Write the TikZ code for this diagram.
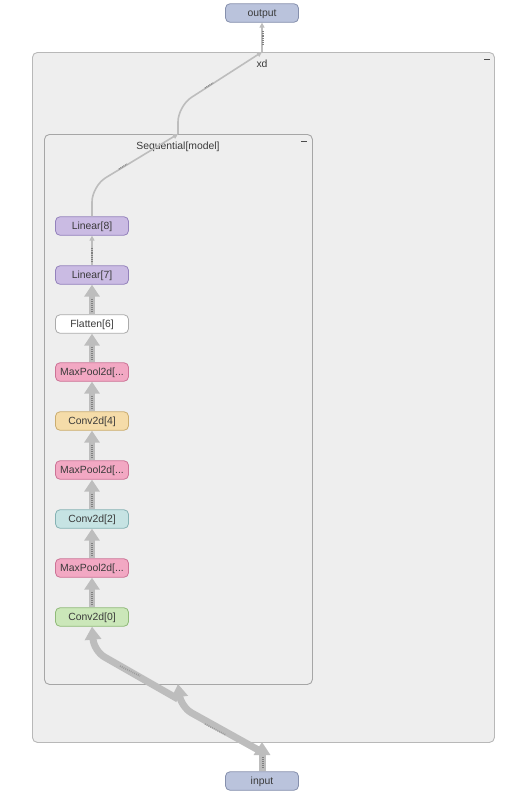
\documentclass[tikz,border=0pt]{standalone}
\usepackage{fontspec}
\setmainfont{Liberation Sans}
\usetikzlibrary{arrows.meta,calc}
\definecolor{boxfill}{HTML}{EEEEEE}
\definecolor{boxline}{HTML}{B8B8B8}
\definecolor{edgegray}{HTML}{BDBDBD}
\definecolor{markgray}{HTML}{808080}
\definecolor{txt}{HTML}{3A3A3A}
\definecolor{iofill}{HTML}{BAC3DC}
\definecolor{ioline}{HTML}{8690AD}
\definecolor{linfill}{HTML}{CABBE3}
\definecolor{linline}{HTML}{9482BC}
\definecolor{mpfill}{HTML}{F2A8C3}
\definecolor{mpline}{HTML}{CC7396}
\definecolor{cfourfill}{HTML}{F5DCA9}
\definecolor{cfourline}{HTML}{CBAD70}
\definecolor{ctwofill}{HTML}{C6E3E3}
\definecolor{ctwoline}{HTML}{86B2B4}
\definecolor{czerofill}{HTML}{CBE7B9}
\definecolor{czeroline}{HTML}{90BA79}
\definecolor{flline}{HTML}{ABABAB}
\tikzset{
  opnode/.style={rounded corners=4.5pt, minimum width=73pt, minimum height=18.5pt,
    inner sep=0pt, line width=0.8pt, text=txt, text height=7.4pt, text depth=0pt,
    font=\fontsize{10.4}{12}\selectfont},
  grp/.style={rounded corners=5pt, fill=boxfill, draw=boxline, line width=0.9pt},
  grplabel/.style={text=txt, font=\fontsize{10.4}{12}\selectfont, inner sep=0pt,
    text height=7.4pt, text depth=0pt},
  bigedge/.style={draw=edgegray, line width=6pt, -{Triangle[width=15pt,length=12pt]}},
  hugeedge/.style={draw=edgegray, line width=7pt, rounded corners=12pt, -{Triangle[width=16pt,length=13pt]}},
  slimedge/.style={draw=edgegray, line width=1.6pt, rounded corners=16pt, -{Triangle[width=5pt,length=5pt]}},
  lblmark/.style={draw=markgray, line width=2pt, dash pattern=on 0.8pt off 1.1pt},
  diagmark/.style={draw=markgray!80, line width=1.6pt, dash pattern=on 0.8pt off 1.2pt},
  slimmark/.style={draw=markgray, line width=1.3pt, dash pattern=on 0.8pt off 1pt},
  collapse/.style={draw=black!70, line width=1pt}
}
\begin{document}
\begin{tikzpicture}[x=1pt,y=-1pt]
\path[fill=white] (0,0) rectangle (509,804);
\useasboundingbox (0,0) rectangle (509,804);

% groups
\node[grp, minimum width=462pt, minimum height=690pt, anchor=north west] (outer) at (32,52) {};
\node[grplabel] (xdlabel) at (262,64) {xd};
\draw[collapse] (484,59) -- (490,59);
\node[grp, draw=boxline!90!black, minimum width=268pt, minimum height=550pt, anchor=north west] (inner) at (44,134) {};
\node[grplabel] (seqlabel) at (178,146) {Sequential[model]};
\draw[collapse] (301,141) -- (307,141);

% boundary points
\coordinate (ob) at (262,742);
\coordinate (ib) at (178,684);
\coordinate (it) at (178,134);
\coordinate (ot) at (262,52);

% io nodes
\node[opnode, fill=iofill, draw=ioline] (output) at (262,13) {output};
\node[opnode, fill=iofill, draw=ioline] (input) at (262,781) {input};

% ops
\node[opnode, fill=linfill, draw=linline] (l8) at (92,226) {Linear[8]};
\node[opnode, fill=linfill, draw=linline] (l7) at (92,275) {Linear[7]};
\node[opnode, fill=white, draw=flline] (fl) at (92,324) {Flatten[6]};
\node[opnode, fill=mpfill, draw=mpline] (mp5) at (92,372) {MaxPool2d[...};
\node[opnode, fill=cfourfill, draw=cfourline] (c4) at (92,421) {Conv2d[4]};
\node[opnode, fill=mpfill, draw=mpline] (mp3) at (92,470) {MaxPool2d[...};
\node[opnode, fill=ctwofill, draw=ctwoline] (c2) at (92,519) {Conv2d[2]};
\node[opnode, fill=mpfill, draw=mpline] (mp1) at (92,568) {MaxPool2d[...};
\node[opnode, fill=czerofill, draw=czeroline] (c0) at (92,617) {Conv2d[0]};

% lower edges
\draw[hugeedge] (input.north) -- (ob);
\draw[hugeedge] ($(ob)+(0,10)$) -- (181,707) -- (ib);
\draw[hugeedge] ($(ib)+(0,15)$) -- (94,651) -- (c0.south);
\draw[lblmark] (263,757) -- (263,768);
\draw[diagmark] (205,724) -- (226,735);
\draw[diagmark] (120,666) -- (140,676);

% between ops
\foreach \a/\b in {c0/mp1, mp1/c2, c2/mp3, mp3/c4, c4/mp5, mp5/fl, fl/l7}{
  \draw[bigedge] (\a.north) -- (\b.south);
  \draw[lblmark] ($(\a.north)+(0,-3)$) -- ($(\a.north)+(0,-15)$);
}
\draw[slimedge] (l7.north) -- (l8.south);
\draw[slimmark] ($(l7.north)+(0,-4)$) -- ($(l7.north)+(0,-18)$);

% upper edges
\draw[slimedge] (l8.north) -- (92,186) -- (it);
\draw[slimmark] (119,169) -- (127,164);
\draw[slimedge] (it) -- (178,106) -- (ot);
\draw[slimmark] (205,88) -- (213,83);
\draw[slimedge] (ot) -- (output.south);
\draw[slimmark] (263,31) -- (263,45);
\end{tikzpicture}
\end{document}
